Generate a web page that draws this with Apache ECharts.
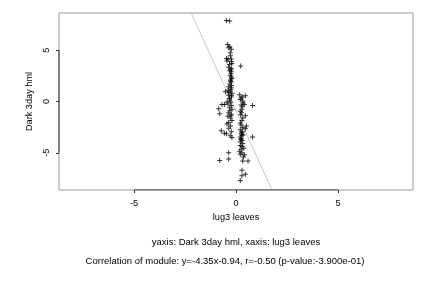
<!DOCTYPE html>
<html><head><meta charset="utf-8">
<script src="https://cdn.jsdelivr.net/npm/echarts@6/dist/echarts.min.js"></script>
<style>html,body{margin:0;padding:0;background:#fff}#c{width:432px;height:288px}</style>
</head><body><div id="c"></div>
<script>
const xTicks = [-5, 0, 5];
const yTicks = [-5, 0, 5];
const xRange = [-8.68, 8.68];
const yRange = [-8.63, 8.63];
const slope = -4.35, intercept = -0.94;
const xLabel = 'lug3 leaves';
const yLabel = 'Dark 3day hml';
const subtitle1 = 'yaxis: Dark 3day hml, xaxis: lug3 leaves';
const subtitle2 = 'Correlation of module: y=-4.35x-0.94, r=-0.50 (p-value:-3.900e-01)';

const leftCluster = [
 [-0.47,7.9],[-0.31,7.85],
 [-0.41,5.55],[-0.36,5.25],[-0.23,5.1],[-0.3,5.35],[-0.28,4.75],[-0.27,4.45],
 [-0.47,4.2],[-0.39,4.15],[-0.23,4.15],[-0.44,3.95],[-0.23,3.9],[-0.2,3.7],[-0.32,3.6],
 [-0.36,3.35],[-0.23,3.25],[-0.25,3.1],[-0.31,3.0],[-0.23,2.9],[-0.25,2.7],[-0.28,2.5],[-0.23,2.4],[-0.2,2.25],[-0.28,2.1],[-0.27,2.0],[-0.23,1.9],[-0.3,1.7],[-0.22,1.55],
 [-0.36,1.45],[-0.23,1.35],[-0.25,1.2],[-0.39,1.1],[-0.28,1.0],[-0.52,0.95],[-0.35,0.85],[-0.2,0.8],[-0.36,0.6],[-0.22,0.6],[-0.23,0.45],[-0.32,0.3],[-0.31,0.15],[-0.44,-0.05],[-0.26,-0.05],
 [-0.69,-0.3],[-0.57,-0.3],[-0.39,-0.25],[-0.23,-0.4],
 [-0.85,-0.7],[-0.31,-0.6],[-0.2,-0.75],[-0.3,-0.9],
 [-0.8,-1.2],[-0.36,-1.1],[-0.23,-1.25],[-0.25,-1.4],[-0.4,-1.45],
 [-0.28,-1.6],[-0.2,-1.85],[-0.36,-2.05],[-0.44,-2.2],[-0.27,-2.4],[-0.35,-2.6],
 [-0.72,-2.85],[-0.57,-3.1],[-0.47,-3.15],[-0.23,-2.95],[-0.28,-3.35],[-0.2,-3.5],
 [-0.36,-5.0],[-0.8,-5.75],[-0.36,-5.6]
];
const rightCluster = [
 [0.23,3.45],
 [0.18,0.65],[0.46,0.55],[0.31,0.45],[0.25,0.35],[0.21,0.2],[0.33,0.05],[0.35,-0.15],
 [0.26,-0.35],[0.81,-0.4],[0.41,-0.3],[0.3,-0.5],
 [0.29,-0.75],[0.21,-0.95],[0.27,-1.1],
 [0.23,-1.3],[0.46,-1.4],[0.33,-1.6],
 [0.29,-1.85],[0.21,-2.1],[0.25,-2.3],
 [0.51,-2.4],[0.33,-2.55],[0.46,-2.65],
 [0.21,-2.75],[0.29,-2.95],[0.3,-3.0],[0.25,-3.15],[0.35,-3.25],
 [0.29,-3.3],[0.21,-3.45],[0.26,-3.6],[0.81,-3.45],[0.24,-3.7],
 [0.29,-3.8],[0.21,-3.95],[0.33,-4.1],
 [0.21,-4.3],[0.3,-4.4],[0.38,-4.55],[0.25,-4.65],
 [0.18,-4.85],[0.29,-5.0],[0.41,-5.2],
 [0.21,-5.15],[0.36,-5.4],
 [0.33,-5.8],[0.59,-5.8],
 [0.29,-6.7],[0.46,-7.1],[0.29,-7.25],[0.21,-7.7]
];

const font = 'Liberation Sans, Arial, sans-serif';
const fs = 9.2;
const fsSub = 9.5;
const plus = 'path://M2,0 H3 V2 H5 V3 H3 V5 H2 V3 H0 V2 H2 Z';
const fitY = [yRange[1], yRange[0]];
const fitLine = fitY.map(y => [(y - intercept) / slope, y]);

const chart = echarts.init(document.getElementById('c'), null, {renderer: 'canvas'});
chart.setOption({
  animation: false,
  backgroundColor: '#fff',
  grid: {left: 59, right: 19, top: 13, bottom: 98, show: true, borderColor: '#999', borderWidth: 1, backgroundColor: 'transparent'},
  graphic: [
    {type: 'text', x: 236, y: 242, style: {text: subtitle1, align: 'center', verticalAlign: 'middle', font: fsSub + 'px ' + font, fill: '#000'}},
    {type: 'text', x: 225, y: 261, style: {text: subtitle2, align: 'center', verticalAlign: 'middle', font: fsSub + 'px ' + font, fill: '#000'}}
  ],
  xAxis: {
    type: 'value', min: xRange[0], max: xRange[1],
    name: xLabel, nameLocation: 'middle', nameGap: 21,
    nameTextStyle: {fontFamily: font, fontSize: fs, color: '#000'},
    axisLine: {show: false, onZero: false},
    axisTick: {show: true, customValues: xTicks, length: 3, lineStyle: {color: '#333'}},
    axisLabel: {customValues: xTicks, margin: 9, fontFamily: font, fontSize: fs, color: '#000'},
    splitLine: {show: false}
  },
  yAxis: {
    type: 'value', min: yRange[0], max: yRange[1],
    name: yLabel, nameLocation: 'middle', nameGap: 19, nameRotate: 90,
    nameTextStyle: {fontFamily: font, fontSize: fs, color: '#000'},
    axisLine: {show: false, onZero: false},
    axisTick: {show: true, customValues: yTicks, length: 3, lineStyle: {color: '#333'}},
    axisLabel: {customValues: yTicks, margin: 8, rotate: 90, fontFamily: font, fontSize: fs, color: '#000'},
    splitLine: {show: false}
  },
  series: [
    {type: 'line', data: [[xTicks[0], yRange[0]], [xTicks[xTicks.length-1], yRange[0]]], symbol: 'none', lineStyle: {color: '#333', width: 1}, silent: true, z: 3},
    {type: 'line', data: [[xRange[0], yTicks[0]], [xRange[0], yTicks[yTicks.length-1]]], symbol: 'none', lineStyle: {color: '#333', width: 1}, silent: true, z: 3},
    {type: 'line', data: fitLine, symbol: 'none', clip: true, lineStyle: {color: '#c8c8c8', width: 1}, silent: true, z: 2},
    {type: 'scatter', data: leftCluster.concat(rightCluster), symbol: plus, symbolSize: 5, itemStyle: {color: '#000'}, z: 4}
  ]
});
</script></body></html>
